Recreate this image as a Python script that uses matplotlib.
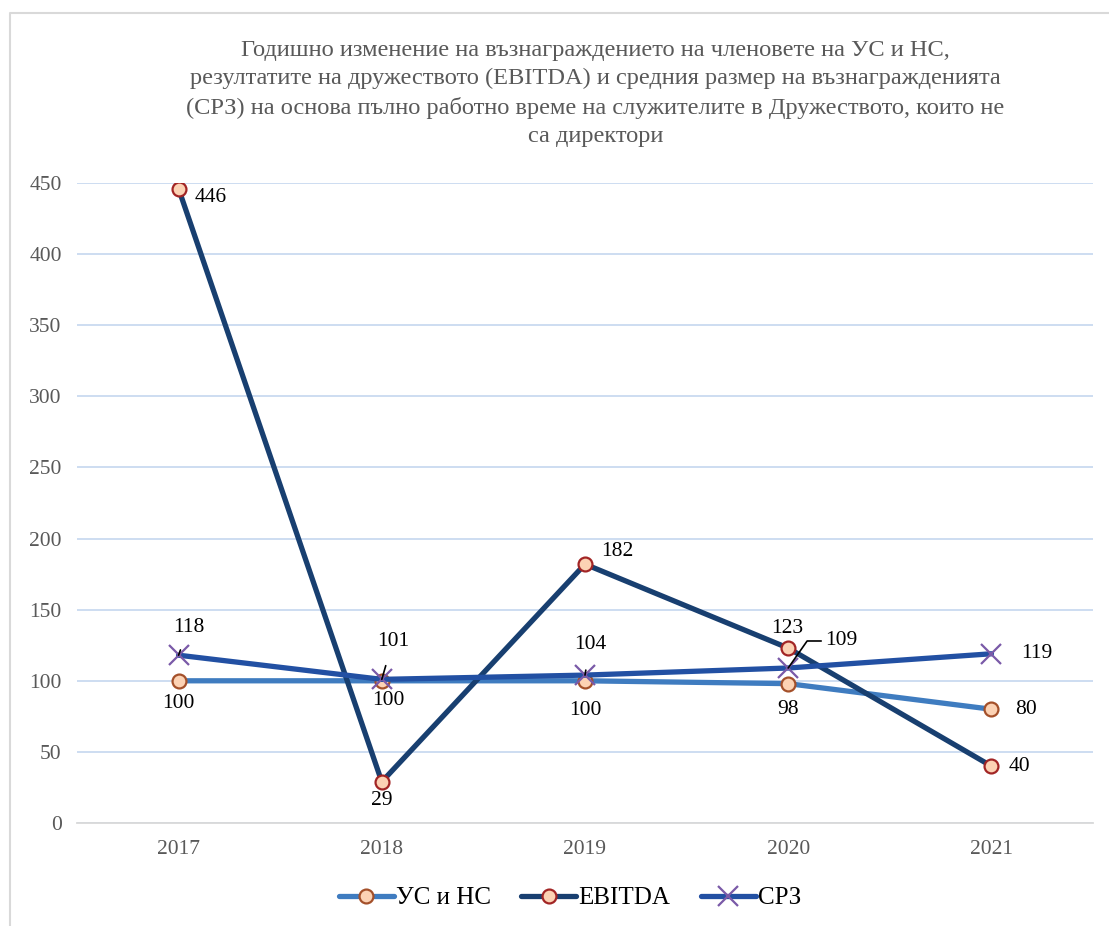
import matplotlib
matplotlib.use("Agg")
import matplotlib.pyplot as plt
from matplotlib.lines import Line2D

years = ["2017", "2018", "2019", "2020", "2021"]
us_ns = [100, 100, 100, 98, 80]
ebitda = [446, 29, 182, 123, 40]
srz = [118, 101, 104, 109, 119]
yticks = [0, 50, 100, 150, 200, 250, 300, 350, 400, 450]
title = ("Годишно изменение на възнаграждението на членовете на УС и НС,\n"
         "резултатите на дружеството (EBITDA) и средния размер на възнагражденията\n"
         "(СРЗ) на основа пълно работно време на служителите в Дружеството, които не\n"
         "са директори")

plt.rcParams['font.family'] = ['Liberation Serif', 'DejaVu Serif']

W, H = 1109, 926
fig = plt.figure(figsize=(W / 100, H / 100), dpi=100)
# chart-area border (left and top only, as in reference)
fig.add_artist(Line2D([9.5 / W, 9.5 / W, 1.0], [0.0, 1 - 12.5 / H, 1 - 12.5 / H],
                      transform=fig.transFigure, color='#d9d9d9', lw=1.5))
ax = fig.add_axes([0.0694, 0.1112, 0.9162, 0.6912])

x = list(range(len(years)))
c_us = '#3f7cc0'
c_eb = '#183f70'
c_srz = '#2250a3'

ax.plot(x, us_ns, color=c_us, lw=3.8, marker='o', ms=10, mfc='#fcd2b4',
        mec='#a4502a', mew=1.6, solid_capstyle='round', label='УС и НС', zorder=3)
ax.plot(x, ebitda, color=c_eb, lw=3.8, marker='o', ms=10, mfc='#fcd2b4',
        mec='#a22525', mew=1.6, solid_capstyle='round', label='EBITDA', zorder=4)
ax.plot(x, srz, color=c_srz, lw=3.8, marker='x', ms=14, mec='#7a5aa8',
        mew=1.6, solid_capstyle='round', label='СРЗ', zorder=5)

ax.set_xlim(-0.5, len(years) - 0.5)
ax.set_ylim(0, 450)
ax.set_yticks(yticks)
ax.set_xticks(x)
ax.set_xticklabels(years)
ax.tick_params(axis='both', length=0, labelsize=15.5, colors='#595959', pad=12)
ax.tick_params(axis='y', pad=11)
for s in ['top', 'right', 'left']:
    ax.spines[s].set_visible(False)
ax.spines['bottom'].set_color('#d9d9d9')
ax.spines['bottom'].set_linewidth(1.3)
ax.grid(axis='y', color='#c9daf0', lw=1.3)
ax.set_axisbelow(True)

fig.text(0.537, 0.957, title, ha='center', va='top', fontsize=17.6,
         color='#595959', linespacing=1.45)

lab_fs = 15.5

def lab(xi, yv, text, dx, dy, leader=None):
    if leader is None:
        ax.annotate(text, (xi, yv), xytext=(dx, dy), textcoords='offset pixels',
                    ha='center', va='center', fontsize=lab_fs, color='black', zorder=10)
    else:
        ax.annotate(text, (xi, yv), xytext=(dx, dy), textcoords='offset pixels',
                    ha='center', va='center', fontsize=lab_fs, color='black', zorder=10,
                    arrowprops=dict(arrowstyle='-', color='black', lw=1.2,
                                    shrinkA=leader, shrinkB=0))

# 2017
lab(0, srz[0], str(srz[0]), 10, 28, leader=8)
lab(0, us_ns[0], str(us_ns[0]), 0, -23)
lab(0, ebitda[0], str(ebitda[0]), 32, -9)
# 2018
lab(1, srz[1], str(srz[1]), 11, 38, leader=9)
lab(1, us_ns[1], str(us_ns[1]), 7, -20)
lab(1, ebitda[1], str(ebitda[1]), 0, -19)
# 2019
lab(2, srz[2], str(srz[2]), 5, 31, leader=10)
lab(2, us_ns[2], str(us_ns[2]), 0, -30)
lab(2, ebitda[2], str(ebitda[2]), 32, 13)
# 2020
lab(3, ebitda[3], str(ebitda[3]), -1, 20)
lab(3, us_ns[3], str(us_ns[3]), 0, -26)
ax.annotate('', xy=(3, srz[3]), xytext=(33, 27), textcoords='offset pixels',
            arrowprops=dict(arrowstyle='-', color='black', lw=1.2, shrinkA=0, shrinkB=0,
                            connectionstyle='angle,angleA=0,angleB=55,rad=0'), zorder=10)
lab(3, srz[3], str(srz[3]), 53, 27)
# 2021
lab(4, srz[4], str(srz[4]), 45, 0)
lab(4, us_ns[4], str(us_ns[4]), 35, 0)
lab(4, ebitda[4], str(ebitda[4]), 28, 0)

leg = fig.legend(loc='center', bbox_to_anchor=(0.514, 0.030), ncol=3, frameon=False,
                 fontsize=18, handlelength=2.2, columnspacing=1.2, handletextpad=0.1)

fig.savefig('out.png', dpi=100)
